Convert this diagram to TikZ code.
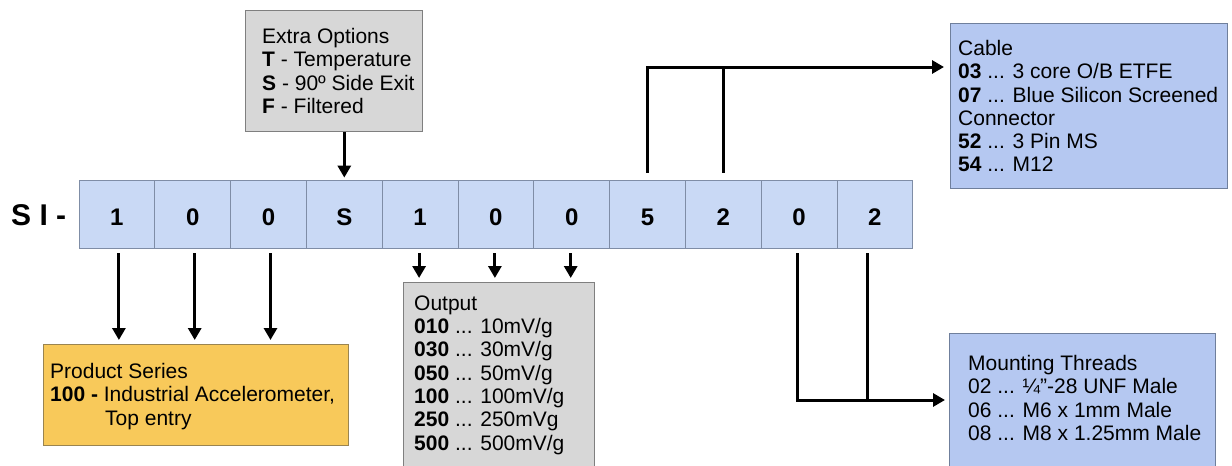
\documentclass[tikz,border=0pt]{standalone}
\usepackage{fontspec}
\setmainfont{Liberation Sans}
\usetikzlibrary{arrows.meta}
\definecolor{rowfill}{HTML}{C9D9F5}
\definecolor{rowline}{HTML}{7F8DA6}
\definecolor{bluefill}{HTML}{B5C8F1}
\definecolor{blueline}{HTML}{6F7F9C}
\definecolor{grayfill}{HTML}{D7D7D7}
\definecolor{grayline}{HTML}{7F7F7F}
\definecolor{yelfill}{HTML}{F8C95A}
\definecolor{yelline}{HTML}{9A8450}
\newcommand\firstln{\rule{0pt}{15pt}}
\begin{document}
\begin{tikzpicture}[x=1pt,y=-1pt,
  cell/.style={draw=rowline, fill=rowfill, line width=0.8pt, minimum width=75.8pt,
    minimum height=68pt, inner sep=0pt, font=\fontsize{24}{24}\selectfont\bfseries,
    text height=22pt, text depth=0pt},
  panel/.style={line width=0.8pt, inner sep=0pt, anchor=north west},
  txt/.style={anchor=north west, inner sep=0pt, align=left,
    font=\fontsize{21}{23.3}\selectfont},
  conn/.style={line width=3pt, -{Triangle[width=13pt,length=12pt]}},
  plainln/.style={line width=3pt}]
\useasboundingbox (0,0) rectangle (1232,466);
\fill[white] (0,0) rectangle (1232,466);

% code row
\node[anchor=base west, inner sep=0pt, font=\fontsize{30}{30}\selectfont\bfseries] (si) at (11,225) {S I -};
\foreach \d [count=\i] in {1,0,0,S,1,0,0,5,2,0,2}
  \node[cell] (b\i) at ({79+75.8*(\i-0.5)},214) {\d};

% panels
\node[panel, draw=grayline, fill=grayfill, minimum width=177pt, minimum height=121pt] (extra) at (245,10) {};
\node[txt] (extratxt) at (262,28) {\firstln Extra Options\\ \textbf{T} - Temperature\\ \textbf{S} - 90º Side Exit\\ \textbf{F} - Filtered};

\node[panel, draw=blueline, fill=bluefill, minimum width=277pt, minimum height=165pt] (cable) at (950,23) {};
\node[txt] (cabletxt) at (958,40) {\firstln Cable\\ \textbf{03} ... 3 core O/B ETFE\\ \textbf{07} ... Blue Silicon Screened\\ Connector\\ \textbf{52} ... 3 Pin MS\\ \textbf{54} ... M12};

\node[panel, draw=yelline, fill=yelfill, minimum width=305pt, minimum height=101pt] (prod) at (43,344) {};
\node[txt] (prodtxt) at (50,363) {\firstln Product Series\\ \textbf{100 -} Industrial Accelerometer,\\ \hspace*{55pt}Top entry};

\node[panel, draw=grayline, fill=grayfill, minimum width=191pt, minimum height=190pt] (out) at (403,282) {};
\node[txt] (outtxt) at (414,295) {\firstln Output\\ \textbf{010} ... 10mV/g\\ \textbf{030} ... 30mV/g\\ \textbf{050} ... 50mV/g\\ \textbf{100} ... 100mV/g\\ \textbf{250} ... 250mVg\\ \textbf{500} ... 500mV/g};

\node[panel, draw=blueline, fill=bluefill, minimum width=266pt, minimum height=140pt] (mount) at (949,333) {};
\node[txt] (mounttxt) at (968,355) {\firstln Mounting Threads\\ 02 ... ¼"-28 UNF Male\\ 06 ... M6 x 1mm Male\\ 08 ... M8 x 1.25mm Male};

% connectors
\draw[conn, shorten >=2pt] (extra.south -| b4.north) -- (b4.north);
\foreach \i in {1,2,3}
  \draw[conn, shorten <=5pt, shorten >=4pt] ([xshift=2pt]b\i.south) -- ([xshift=2pt]b\i.south |- prod.north);
\foreach \i in {5,6,7}
  \draw[conn, shorten <=5pt, shorten >=4pt] ([xshift=-1pt]b\i.south) -- ([xshift=-1pt]b\i.south |- out.north);

\coordinate (ctop) at (700,67);
\draw[conn, shorten <=7pt, shorten >=6pt] (b8.north) -- (b8.north |- ctop) -- (cable.west |- ctop);
\draw[plainln, shorten <=7pt] (b9.north) -- (b9.north |- ctop);

\coordinate (mbot) at (850,400);
\draw[conn, shorten <=5pt, shorten >=4pt] ([xshift=-2pt]b10.south) -- ([xshift=-2pt]b10.south |- mbot) -- (mount.west |- mbot);
\draw[plainln, shorten <=5pt] ([xshift=-7pt]b11.south) -- ([xshift=-7pt]b11.south |- mbot);
\end{tikzpicture}
\end{document}
